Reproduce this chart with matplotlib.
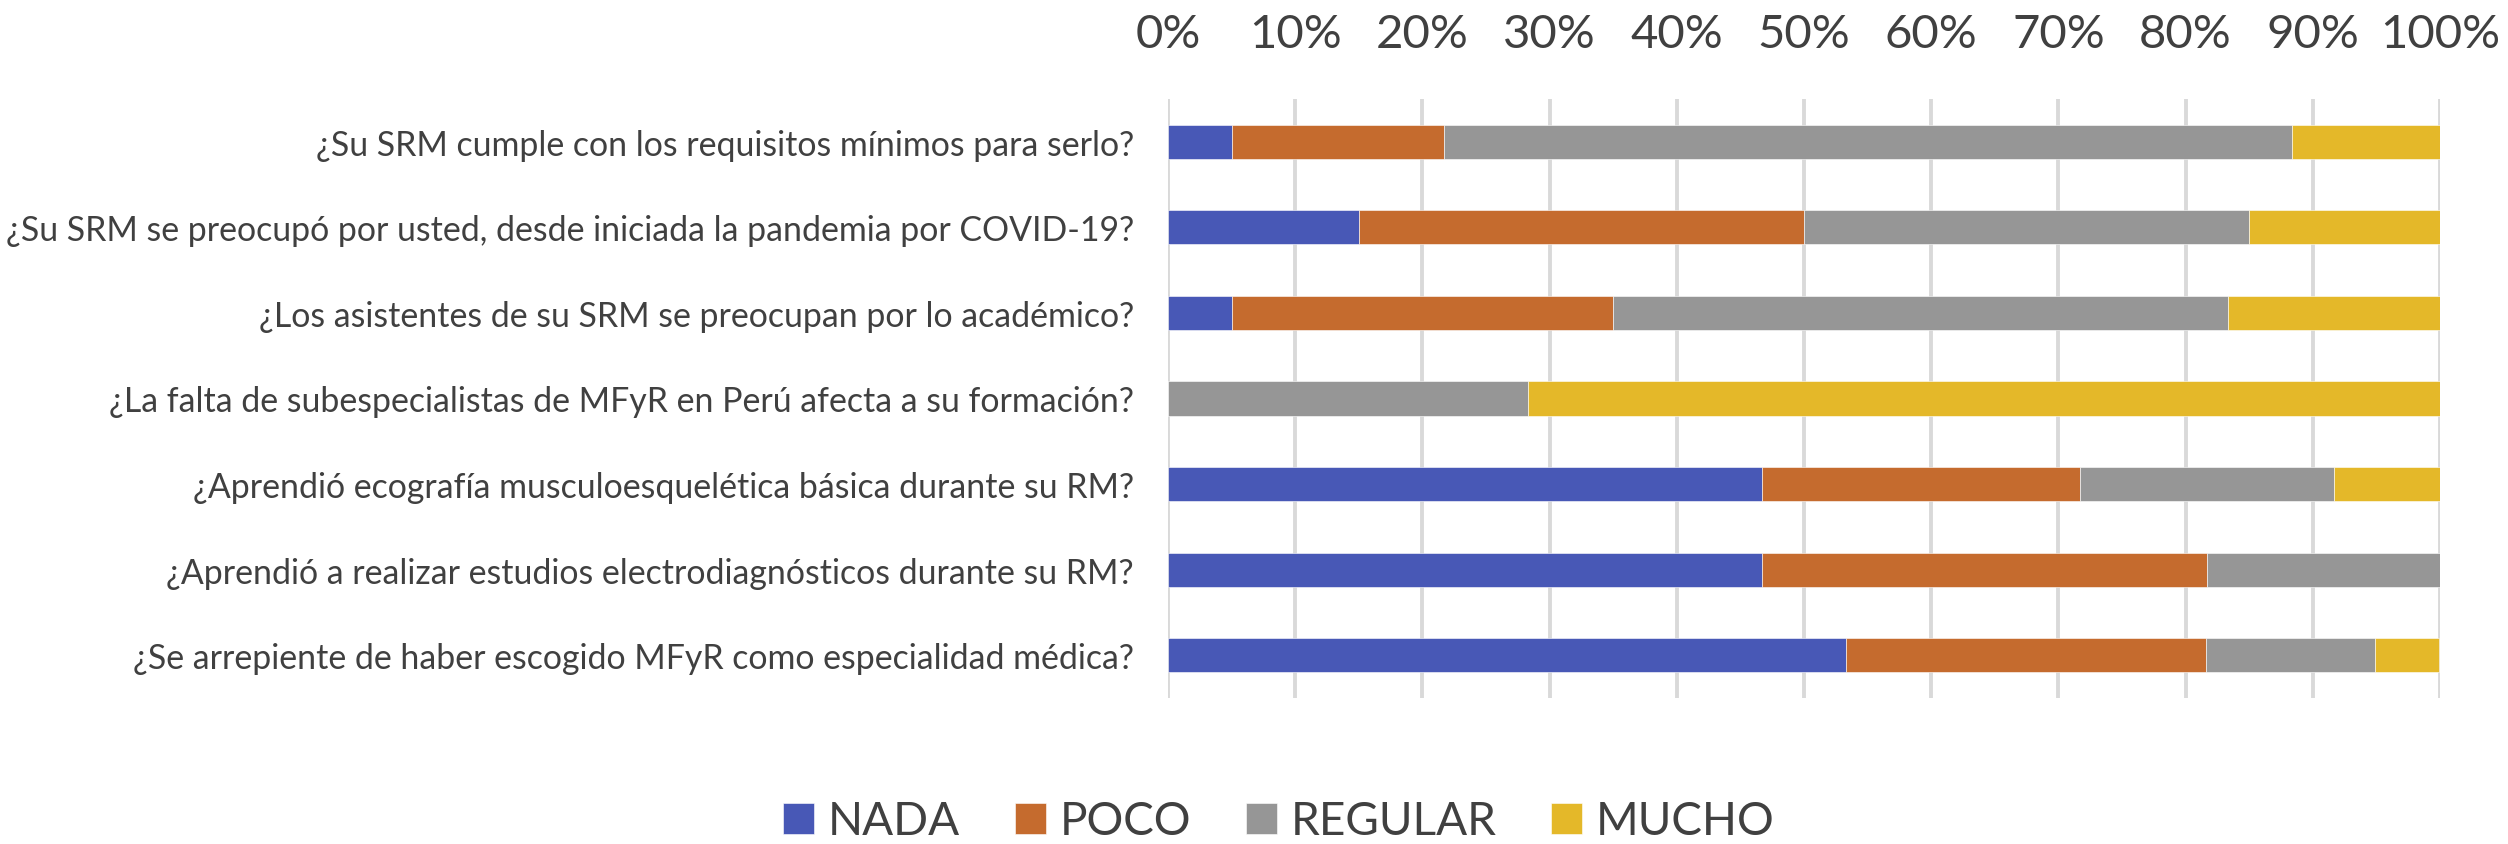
import matplotlib
matplotlib.use('Agg')
import matplotlib.pyplot as plt
import numpy as np

# Survey questions (top to bottom as shown)
questions = [
    '¿Su SRM cumple con los requisitos mínimos para serlo?',
    '¿Su SRM se preocupó por usted, desde iniciada la pandemia por COVID-19?',
    '¿Los asistentes de su SRM se preocupan por lo académico?',
    '¿La falta de subespecialistas de MFyR en Perú afecta a su formación?',
    '¿Aprendió ecografía musculoesquelética básica durante su RM?',
    '¿Aprendió a realizar estudios electrodiagnósticos durante su RM?',
    '¿Se arrepiente de haber escogido MFyR como especialidad médica?',
]

# Percentages
nada = [5.0, 15.0, 5.0, 0.0, 46.7, 46.7, 53.3]
poco = [16.7, 35.0, 30.0, 0.0, 25.0, 35.0, 28.3]
regular = [66.7, 35.0, 48.3, 28.3, 20.0, 18.3, 13.3]
mucho = [11.7, 15.0, 16.7, 71.7, 8.3, 0.0, 5.0]

series = [nada, poco, regular, mucho]
series_names = ['NADA', 'POCO', 'REGULAR', 'MUCHO']
colors = ['#4858B6', '#C56B2E', '#969696', '#E4B829']
ticks = np.arange(0, 101, 10)

plt.rcParams['font.family'] = ['Lato', 'DejaVu Sans']
text_color = '#404040'

fig = plt.figure(figsize=(25.08, 8.45), dpi=100)
ax = fig.add_axes([0.4657, 0.1728, 0.5072, 0.7089])

y = np.arange(len(questions))
left = np.zeros(len(questions))
for vals, name, c in zip(series, series_names, colors):
    vals = np.array(vals)
    ax.barh(y, vals, left=left, height=0.40, color=c, label=name,
            edgecolor='white', linewidth=0.4, zorder=3)
    left += vals

ax.set_xlim(0, 100)
ax.set_ylim(len(questions) - 0.5, -0.5)
ax.set_xticks(ticks)
ax.set_xticklabels([f'{t}%' for t in ticks], fontsize=34, color=text_color)
ax.xaxis.tick_top()
ax.tick_params(axis='x', length=0, pad=32)
ax.set_yticks(y)
ax.set_yticklabels(questions, fontsize=24.4, color=text_color)
ax.tick_params(axis='y', length=0, pad=24.5)

ax.grid(axis='x', color='#D9D9D9', linewidth=2.8, zorder=0)
ax.grid(axis='y', visible=False)
for s in ax.spines.values():
    s.set_visible(False)

leg = fig.legend(loc='center', bbox_to_anchor=(0.51, 0.027), ncol=4,
                 frameon=False, fontsize=33, handlelength=0.67, handleheight=0.67,
                 handletextpad=0.3, columnspacing=1.2)
for t in leg.get_texts():
    t.set_color(text_color)

fig.savefig('out.png', dpi=100, facecolor='white')
